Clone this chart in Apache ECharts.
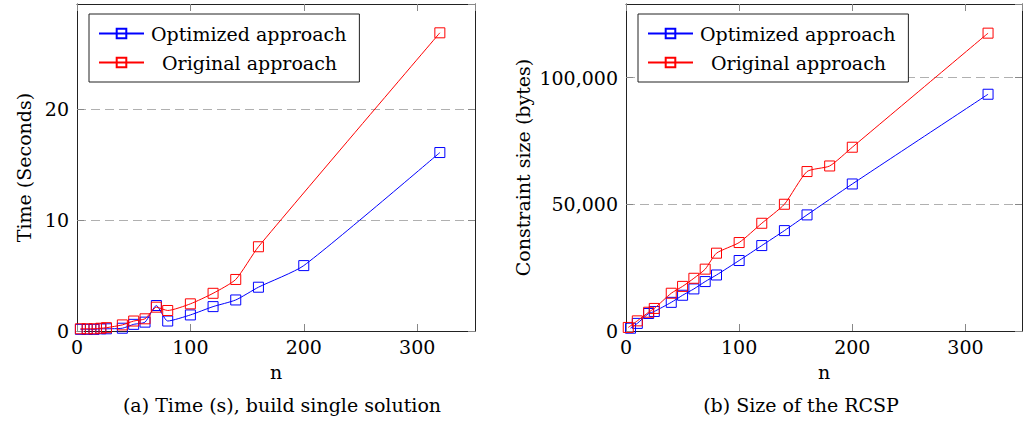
<!DOCTYPE html>
<html>
<head>
<meta charset="utf-8">
<script src="https://cdn.jsdelivr.net/npm/echarts@6/dist/echarts.min.js"></script>
<style>
html,body{margin:0;padding:0;background:#fff;}
#chart{width:1023px;height:423px;}
</style>
</head>
<body>
<div id="chart"></div>
<script>
// ---- data ----
const seriesNames = ['Optimized approach', 'Original approach'];

// (a) Time (s), build single solution
const timeNOpt = [3, 9, 15, 21, 26, 40, 50, 60, 70, 80, 100, 120, 140, 160, 200, 320];
const timeOpt  = [0.15, 0.15, 0.15, 0.2, 0.2, 0.25, 0.6, 0.8, 2.3, 0.9, 1.45, 2.2, 2.8, 3.95, 5.9, 16.1];
const timeNOrig = [3, 9, 15, 21, 26, 40, 50, 60, 70, 80, 100, 120, 140, 160, 320];
const timeOrig  = [0.2, 0.2, 0.2, 0.25, 0.3, 0.55, 0.9, 1.1, 2.15, 1.85, 2.45, 3.4, 4.65, 7.6, 26.9];

// (b) Size of the RCSP
const sizeNOpt = [4, 10, 20, 25, 40, 50, 60, 70, 80, 100, 120, 140, 160, 200, 320];
const sizeOpt  = [1100, 3000, 6900, 7700, 11300, 14100, 16600, 19500, 22100, 27800, 33700, 39600, 45800, 58000, 93400];
const sizeNOrig = [2, 10, 20, 25, 40, 50, 60, 70, 80, 100, 120, 140, 160, 180, 200, 320];
const sizeOrig  = [1400, 4000, 7400, 8900, 14900, 17600, 20800, 24400, 30700, 34900, 42500, 50000, 62900, 65100, 72500, 117500];

const xTicks = [0, 100, 200, 300];
const timeTicks = [0, 10, 20];
const sizeTicks = [0, 50000, 100000];

const titles = ['(a) Time (s), build single solution', '(b) Size of the RCSP'];
const xName = 'n';
const yNames = ['Time (Seconds)', 'Constraint size (bytes)'];

// ---- styling ----
const FONT = 'DejaVu Serif';
const FS = 19;
const BLUE = '#0000ff', RED = '#ff0000';

function zip(a, b) { return a.map((v, i) => [v, b[i]]); }
function fmtNum(v) { return v.toLocaleString('en-US'); }

const frameLine = { show: true, lineStyle: { color: '#222', width: 1 } };
const tickStyle = { show: true, inside: true, length: 7, lineStyle: { color: '#888', width: 1 } };

function mainX(gi) {
  return {
    type: 'value', gridIndex: gi, min: 0, max: gi === 0 ? 351 : 350, interval: 100,
    name: xName, nameLocation: 'middle', nameGap: 31,
    nameTextStyle: { fontFamily: FONT, fontSize: FS, color: '#000' },
    axisLine: Object.assign({ onZero: false }, frameLine),
    axisTick: tickStyle,
    axisLabel: {
      fontFamily: FONT, fontSize: FS, color: '#000', margin: 6,
      showMaxLabel: false,
      formatter: v => xTicks.indexOf(v) >= 0 ? String(v) : ''
    },
    splitLine: { show: false }
  };
}
function topX(gi) {
  return {
    type: 'value', gridIndex: gi, position: 'top', min: 0, max: gi === 0 ? 351 : 350, interval: 100,
    axisLine: Object.assign({ onZero: false }, frameLine),
    axisTick: tickStyle, axisLabel: { show: false }, splitLine: { show: false }
  };
}
function mainY(gi, max, interval, ticks, gap) {
  return {
    type: 'value', gridIndex: gi, min: 0, max: max, interval: interval,
    name: yNames[gi], nameLocation: 'middle', nameGap: gap,
    nameTextStyle: { fontFamily: FONT, fontSize: FS, color: '#000' },
    axisLine: Object.assign({ onZero: false }, frameLine),
    axisTick: tickStyle,
    axisLabel: {
      fontFamily: FONT, fontSize: FS, color: '#000', margin: 8,
      showMaxLabel: false,
      formatter: v => ticks.indexOf(v) >= 0 ? fmtNum(v) : ''
    },
    splitLine: { show: true, lineStyle: { color: '#b0b0b0', width: 1, type: [9, 5] } }
  };
}
function rightY(gi, max, interval) {
  return {
    type: 'value', gridIndex: gi, position: 'right', min: 0, max: max, interval: interval,
    axisLine: Object.assign({ onZero: false }, frameLine),
    axisTick: tickStyle, axisLabel: { show: false }, splitLine: { show: false }
  };
}
function lineSeries(name, color, data, xi, yi) {
  return {
    type: 'line', name: name, data: data,
    xAxisIndex: xi, yAxisIndex: yi,
    smooth: 0.2,
    symbol: 'rect', symbolSize: 10,
    lineStyle: { color: color, width: 1 },
    itemStyle: { color: 'rgba(0,0,0,0)', borderColor: color, borderWidth: 1 },
    emphasis: { disabled: true },
    animation: false, z: color === RED ? 3 : 2
  };
}
function legend(left) {
  return {
    data: seriesNames, orient: 'vertical', left: left, top: 14,
    itemWidth: 45, itemHeight: 12, itemGap: 10,
    padding: [10, 13, 10, 9],
    borderColor: '#222', borderWidth: 1, borderRadius: 0, backgroundColor: '#fff',
    selectedMode: false,
    formatter: name => name === seriesNames[1] ? '{c|' + name + '}' : name,
    textStyle: {
      fontFamily: FONT, fontSize: FS, color: '#000', padding: [0, 0, 0, 2],
      rich: { c: { fontFamily: FONT, fontSize: FS, color: '#000', padding: [0, 0, 0, 11] } }
    }
  };
}

const chart = echarts.init(document.getElementById('chart'), null, { renderer: 'svg' });
chart.setOption({
  animation: false,
  backgroundColor: '#fff',
  grid: [
    { left: 77, right: 548, top: 4, bottom: 92 },
    { left: 626, right: 1, top: 4, bottom: 92 }
  ],
  xAxis: [mainX(0), topX(0), mainX(1), topX(1)],
  yAxis: [
    mainY(0, 29.5, 10, timeTicks, 44), rightY(0, 29.5, 10),
    mainY(1, 129000, 50000, sizeTicks, 94), rightY(1, 129000, 50000)
  ],
  legend: [legend(89), legend(638)],
  series: [
    lineSeries(seriesNames[0], BLUE, zip(timeNOpt, timeOpt), 0, 0),
    lineSeries(seriesNames[1], RED, zip(timeNOrig, timeOrig), 0, 0),
    lineSeries(seriesNames[0], BLUE, zip(sizeNOpt, sizeOpt), 2, 2),
    lineSeries(seriesNames[1], RED, zip(sizeNOrig, sizeOrig), 2, 2)
  ],
  graphic: [
    { type: 'text', x: 282, y: 395, style: { text: titles[0], fontFamily: FONT, fontSize: FS, fill: '#000', textAlign: 'center' } },
    { type: 'text', x: 801, y: 395, style: { text: titles[1], fontFamily: FONT, fontSize: FS, fill: '#000', textAlign: 'center' } }
  ]
});
</script>
</body>
</html>
